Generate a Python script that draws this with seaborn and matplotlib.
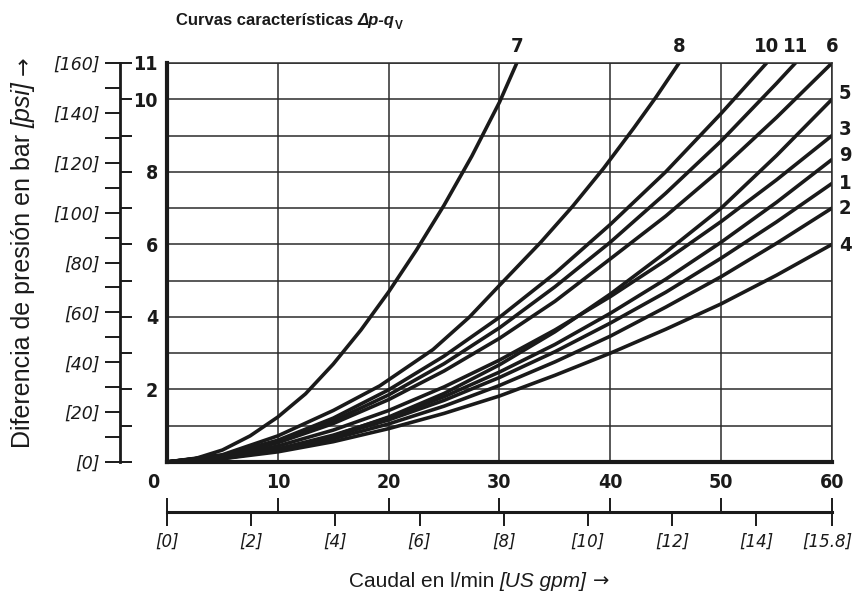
import numpy as np
import pandas as pd
import matplotlib
matplotlib.use("Agg")
import matplotlib.pyplot as plt
import matplotlib.transforms as mtrans
import seaborn as sns

# ---------------- data ----------------
flow = [0, 5, 10, 15, 20, 25, 30, 35, 40, 45, 50, 55, 60]
curve_1 = [0, 0.11, 0.35, 0.71, 1.16, 1.70, 2.33, 3.04, 3.83, 4.68, 5.62, 6.62, 7.68]
curve_2 = [0, 0.10, 0.32, 0.64, 1.05, 1.54, 2.11, 2.76, 3.47, 4.27, 5.11, 6.03, 7.00]
curve_3 = [0, 0.14, 0.44, 0.88, 1.42, 2.07, 2.81, 3.64, 4.56, 5.56, 6.63, 7.78, 9.00]
curve_4 = [0, 0.09, 0.28, 0.56, 0.92, 1.34, 1.82, 2.39, 3.00, 3.66, 4.36, 5.15, 6.00]
curve_5 = [0, 0.09, 0.33, 0.72, 1.24, 1.89, 2.68, 3.59, 4.63, 5.78, 7.00, 8.45, 10.00]
curve_6 = [0, 0.17, 0.53, 1.06, 1.72, 2.51, 3.41, 4.43, 5.60, 6.78, 8.08, 9.50, 11.00]
curve_9 = [0, 0.11, 0.36, 0.74, 1.22, 1.80, 2.48, 3.24, 4.10, 5.04, 6.06, 7.16, 8.34]

flow_7 = [0, 2.5, 5, 7.5, 10, 12.5, 15, 17.5, 20, 22.5, 25, 27.5, 30, 31.56]
curve_7 = [0, 0.09, 0.33, 0.72, 1.24, 1.88, 2.70, 3.64, 4.69, 5.84, 7.08, 8.43, 9.92, 11.00]

flow_8 = [0, 5, 10, 15, 19.2, 24.0, 27.3, 30.0, 33.7, 36.6, 39.4, 42.1, 44.1, 46.2]
curve_8 = [0, 0.20, 0.72, 1.42, 2.10, 3.10, 4.00, 4.87, 6.05, 7.05, 8.10, 9.20, 10.05, 11.00]

flow_10 = [0, 5, 10, 15, 20, 25, 30, 35, 40, 45, 50, 54.1]
curve_10 = [0, 0.18, 0.60, 1.21, 1.99, 2.92, 3.99, 5.20, 6.55, 8.00, 9.61, 11.00]

flow_11 = [0, 5, 10, 15, 20, 25, 30, 35, 40, 45, 50, 55, 56.7]
curve_11 = [0, 0.17, 0.57, 1.13, 1.85, 2.71, 3.70, 4.83, 6.06, 7.41, 8.85, 10.44, 11.00]

x_ticks = [0, 10, 20, 30, 40, 50, 60]
x_labels = ["", "10", "20", "30", "40", "50", "60"]
bar_ticks = [0, 1, 2, 3, 4, 5, 6, 7, 8, 9, 10, 11]
bar_labels = ["", "", "2", "", "4", "", "6", "", "8", "", "10", "11"]
psi_ticks = [0, 10, 20, 30, 40, 50, 60, 70, 80, 90, 100, 110, 120, 130, 140, 150, 160]
psi_labels = ["[0]", "", "[20]", "", "[40]", "", "[60]", "", "[80]", "", "[100]", "",
              "[120]", "", "[140]", "", "[160]"]
gpm_ticks = [0, 2, 4, 6, 8, 10, 12, 14, 15.8]
gpm_labels = ["[0]", "[2]", "[4]", "[6]", "[8]", "[10]", "[12]", "[14]", "[15.8]"]

top_labels = ["7", "8", "10", "11", "6"]
right_labels = ["5", "3", "9", "1", "2", "4"]
right_label_y = [10.17, 9.17, 8.46, 7.69, 7.0, 5.98]

# ---------------- long table ----------------
series = {
    "1": (flow, curve_1), "2": (flow, curve_2), "3": (flow, curve_3),
    "4": (flow, curve_4), "5": (flow, curve_5), "6": (flow, curve_6),
    "7": (flow_7, curve_7), "8": (flow_8, curve_8), "9": (flow, curve_9),
    "10": (flow_10, curve_10), "11": (flow_11, curve_11),
}
rows = []
for name, (xs, ys) in series.items():
    for xv, yv in zip(xs, ys):
        rows.append({"curve": name, "flow": xv, "dp": yv})
df = pd.DataFrame(rows)

# ---------------- style ----------------
sns.set_theme(style="white")
plt.rcParams["font.family"] = ["DejaVu Sans"]
INK = "#1a1a1a"
W, H = 853, 601
NUM = dict(fontweight="bold", fontstretch="condensed", color=INK)

fig = plt.figure(figsize=(W / 100, H / 100), dpi=100)
fig.patch.set_facecolor("white")
L, R, T, B = 167, 832, 63, 462
ax = fig.add_axes([L / W, (H - B) / H, (R - L) / W, (B - T) / H])

sns.lineplot(data=df, x="flow", y="dp", hue="curve", units="curve", estimator=None,
             palette={k: INK for k in series}, legend=False, linewidth=2.6, ax=ax)
for ln in ax.get_lines():
    ln.set_solid_joinstyle("round")
ax.set_xlim(0, 60)
ax.set_ylim(0, 11)
ax.set_xlabel("")
ax.set_ylabel("")

ax.set_xticks(x_ticks, labels=x_labels, fontsize=14, **NUM)
ax.set_yticks(bar_ticks, labels=bar_labels, fontsize=14, **NUM)
ax.tick_params(axis="both", length=0, colors=INK)
ax.tick_params(axis="x", pad=8)
ax.tick_params(axis="y", pad=6.5)
ax.grid(True, color="#2b2b2b", linewidth=1.1)
ax.set_axisbelow(True)
for s in ["top", "right"]:
    ax.spines[s].set_linewidth(1.1)
    ax.spines[s].set_color("#2b2b2b")
for s in ["left", "bottom"]:
    ax.spines[s].set_linewidth(3.0)
    ax.spines[s].set_color(INK)
    ax.spines[s].set_zorder(5)

# origin label "0" shared by both scales
ax.annotate("0", xy=(0, 0), xycoords="data", xytext=(-14, -21), textcoords="offset pixels",
            ha="center", va="center", fontsize=14, **NUM)

# curve labels
top_x = [flow_7[-1], flow_8[-1], flow_10[-1], flow_11[-1], flow[-1]]
for lab, xv in zip(top_labels, top_x):
    ax.text(xv, 11.45, lab, ha="center", va="center", fontsize=14.5, clip_on=False, **NUM)
for lab, yv in zip(right_labels, right_label_y):
    ax.text(61.2, yv, lab, ha="center", va="center", fontsize=14.5, clip_on=False, **NUM)

# ---------------- psi axis ----------------
axp = ax.twinx()
axp.set_ylim(0, 160)
axp.yaxis.set_ticks_position("left")
for s in ["top", "right", "bottom"]:
    axp.spines[s].set_visible(False)
axp.spines["left"].set_visible(True)
axp.spines["left"].set_position(("outward", 47 * 0.72))
axp.spines["left"].set_linewidth(2.0)
axp.spines["left"].set_color(INK)
axp.yaxis.remove_overlapping_locs = False
axp.set_yticks(psi_ticks, labels=psi_labels, fontstyle="italic", fontsize=12.5)
axp.set_yticks([b * 160 / 11 for b in bar_ticks], minor=True)
axp.tick_params(axis="y", which="both", left=True, right=False, labelleft=True,
                labelright=False, colors=INK, width=1.4)
axp.tick_params(axis="y", which="major", direction="out", length=10.8, pad=3.6)
axp.tick_params(axis="y", which="minor", direction="in", length=8.3)
axp.grid(False)

# ---------------- gpm axis ----------------
axg = ax.twiny()
axg.set_xlim(0, 60)
axg.xaxis.set_ticks_position("bottom")
for s in ["top", "right", "left"]:
    axg.spines[s].set_visible(False)
axg.spines["bottom"].set_visible(True)
axg.spines["bottom"].set_position(("outward", 50 * 0.72))
axg.spines["bottom"].set_linewidth(2.2)
axg.spines["bottom"].set_color(INK)
axg.xaxis.remove_overlapping_locs = False
axg.set_xticks([g * 60 / 15.8 for g in gpm_ticks], labels=gpm_labels,
               fontstyle="italic", fontsize=12)
axg.set_xticks(x_ticks, minor=True)
axg.tick_params(axis="x", which="both", bottom=True, top=False, labelbottom=True,
                labeltop=False, colors=INK, width=1.4)
axg.tick_params(axis="x", which="major", direction="out", length=10, pad=5)
axg.tick_params(axis="x", which="minor", direction="in", length=10)
axg.grid(False)
# last gpm label sits a little left of its tick, as in the reference
last = axg.get_xticklabels()[-1]
last.set_transform(last.get_transform() + mtrans.ScaledTranslation(-5 / 100, 0, fig.dpi_scale_trans))

# ---------------- composed texts ----------------
renderer = fig.canvas.get_renderer()


def compose(pieces, cx, cy, vertical=False, anchor="center"):
    """pieces: list of (text, kwargs, gap_px_before, baseline_shift_px_down)"""
    objs, lengths = [], []
    for s, kw, gap, shift in pieces:
        t = fig.text(0, 0, s, ha="left", va="baseline", rotation_mode="anchor", **kw)
        objs.append(t)
        lengths.append(t.get_window_extent(renderer).width)
    total = sum(lengths) + sum(p[2] for p in pieces)
    if vertical:
        pos = cy - total / 2
    else:
        pos = (cx - total / 2) if anchor == "center" else cx
    for t, ln, (s, kw, gap, shift) in zip(objs, lengths, pieces):
        pos += gap
        if vertical:
            t.set_rotation(90)
            t.set_position(((cx + shift) / W, pos / H))
        else:
            t.set_position((pos / W, (H - cy - shift) / H))
        pos += ln


lab_font = ["Liberation Sans", "DejaVu Sans"]
reg = dict(family=lab_font, fontsize=15, color=INK)
ita = dict(family=lab_font, fontsize=15, color=INK, fontstyle="italic")
arw = dict(family=["DejaVu Sans"], fontsize=14, color=INK)

compose([("Caudal en l/min", reg, 0, 0), ("[US gpm]", ita, 5, 0), ("\u2192", arw, 6, 0)],
        479, 587)

regy = dict(reg, fontsize=18)
itay = dict(ita, fontsize=18)
arwy = dict(arw, fontsize=16)
compose([("Diferencia de presi\u00f3n en bar", regy, 0, 0), ("[psi]", itay, 6, 0),
         ("\u2192", arwy, 7, 0)], 30, H - 252, vertical=True)

tb = dict(family=lab_font, fontsize=12, color=INK, fontweight="bold")
tbi = dict(tb, fontstyle="italic")
tsub = dict(tb, fontsize=8.5)
compose([("Curvas caracter\u00edsticas", tb, 0, 0), ("\u0394p-q", tbi, 4.5, 0),
         ("V", tsub, 0.5, 4)], 176, 25, anchor="left")

fig.savefig("out.png", dpi=100)
